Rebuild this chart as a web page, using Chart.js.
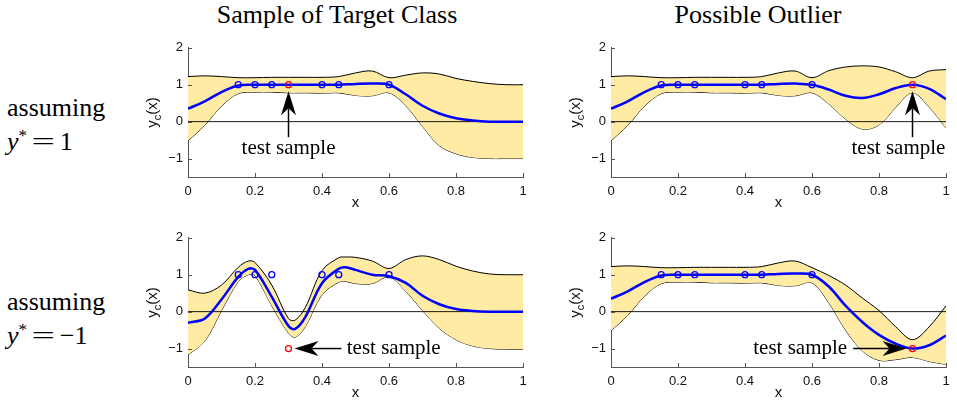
<!DOCTYPE html>
<html>
<head>
<meta charset="utf-8">
<script src="https://cdn.jsdelivr.net/npm/chart.js@4.4.1/dist/chart.umd.min.js"></script>
<style>
  body { margin: 0; background: #fff; }
  #page { position: relative; width: 957px; height: 402px; overflow: hidden; font-family: "Liberation Serif", "Times New Roman", serif; color: #000; }
  canvas { position: absolute; }
  .title { position: absolute; top: 0; width: 400px; text-align: center; font-size: 26px; line-height: 30px; white-space: nowrap; }
  .rowlabel { position: absolute; left: 7px; font-size: 26px; line-height: 34px; white-space: nowrap; }
  .rowlabel sup { font-size: 17px; vertical-align: 0; position: relative; top: -9px; }
  .eq { display: inline-block; transform: scaleX(1.6); margin: 0 9px; }
</style>
</head>
<body>
<div id="page">
  <div class="title" style="left:137px">Sample of Target Class</div>
  <div class="title" style="left:558px">Possible Outlier</div>
  <div class="rowlabel" style="top:91px">assuming<br><i>y</i><sup>*</sup><span class="eq">=</span>1</div>
  <div class="rowlabel" style="top:285px">assuming<br><i>y</i><sup>*</sup><span class="eq">=</span>−1</div>
  <canvas id="c1" width="405" height="180" style="left:130px;top:35px"></canvas>
  <canvas id="c2" width="405" height="180" style="left:553px;top:35px"></canvas>
  <canvas id="c3" width="405" height="180" style="left:130px;top:225px"></canvas>
  <canvas id="c4" width="405" height="180" style="left:553px;top:225px"></canvas>
</div>
<script>
// ticks
const xTicks = [0, 0.2, 0.4, 0.6, 0.8, 1];
const yTicks = [-1, 0, 1, 2];

// training samples (blue circles)
const trainX = [0.15, 0.2, 0.25, 0.4, 0.45, 0.6];
const trainY = [1, 1, 1, 1, 1, 1];

// sample positions of the curves
const xGrid = [0, 0.05, 0.1, 0.15, 0.2, 0.25, 0.3, 0.35, 0.4, 0.45, 0.5, 0.55, 0.6, 0.65, 0.7, 0.75, 0.8, 0.85, 0.9, 0.95, 1];
const xGridBL = [0, 0.05, 0.1, 0.15, 0.18, 0.2, 0.25, 0.3, 0.32, 0.35, 0.4, 0.45, 0.47, 0.5, 0.55, 0.6, 0.65, 0.7, 0.75, 0.8, 0.85, 0.9, 0.95, 1];

// top left: target class, y* = 1
const tlUpper = [1.22, 1.24, 1.22, 1.19, 1.19, 1.2, 1.2, 1.2, 1.2, 1.22, 1.32, 1.37, 1.19, 1.26, 1.32, 1.29, 1.17, 1.09, 1.03, 1.0, 1.0];
const tlMean  = [0.35, 0.55, 0.8, 0.98, 1.0, 1.0, 1.0, 1.0, 1.0, 1.0, 1.02, 1.03, 1.0, 0.74, 0.43, 0.22, 0.09, 0.03, 0.0, 0.0, 0.0];
const tlLower = [-0.52, -0.1, 0.42, 0.76, 0.8, 0.8, 0.78, 0.78, 0.77, 0.78, 0.71, 0.7, 0.78, 0.43, -0.13, -0.65, -0.87, -0.97, -1.0, -1.0, -1.0];

// top right: outlier, y* = 1
const trUpper = [1.22, 1.24, 1.22, 1.19, 1.19, 1.2, 1.2, 1.2, 1.2, 1.22, 1.32, 1.37, 1.19, 1.38, 1.48, 1.51, 1.48, 1.35, 1.19, 1.37, 1.41];
const trMean  = [0.35, 0.55, 0.8, 0.98, 1.0, 1.0, 1.0, 1.0, 1.0, 1.0, 1.02, 1.03, 1.0, 0.87, 0.7, 0.64, 0.74, 0.91, 1.0, 0.89, 0.61];
const trLower = [-0.52, -0.1, 0.42, 0.76, 0.8, 0.8, 0.78, 0.78, 0.77, 0.78, 0.71, 0.7, 0.78, 0.48, 0.07, -0.2, -0.09, 0.39, 0.78, 0.39, -0.17];

// bottom left: target class, y* = -1
const blUpper = [0.59, 0.5, 0.72, 1.2, 1.37, 1.33, 0.72, -0.19, -0.23, 0.11, 1.11, 1.46, 1.48, 1.47, 1.37, 1.17, 1.41, 1.51, 1.41, 1.23, 1.1, 1.02, 1.0, 1.0];
const blMean  = [-0.3, -0.19, 0.33, 0.94, 1.16, 1.13, 0.4, -0.39, -0.47, -0.15, 0.77, 1.16, 1.2, 1.13, 1.0, 0.96, 0.78, 0.43, 0.2, 0.07, 0.02, 0.0, 0.0, 0.0];
const blLower = [-1.17, -0.8, 0.03, 0.81, 1.0, 0.98, 0.16, -0.58, -0.69, -0.41, 0.46, 0.8, 0.82, 0.76, 0.76, 0.94, 0.55, 0.03, -0.45, -0.76, -0.93, -1.0, -1.02, -1.02];

// bottom right: outlier, y* = -1
const brUpper = [1.22, 1.24, 1.22, 1.19, 1.19, 1.2, 1.2, 1.2, 1.2, 1.22, 1.32, 1.37, 1.19, 0.98, 0.72, 0.37, 0.03, -0.41, -0.76, -0.41, 0.16];
const brMean  = [0.35, 0.55, 0.8, 0.98, 1.0, 1.0, 1.0, 1.0, 1.0, 1.0, 1.02, 1.03, 1.0, 0.68, 0.16, -0.28, -0.63, -0.87, -1.0, -0.91, -0.65];
const brLower = [-0.52, -0.1, 0.42, 0.76, 0.8, 0.8, 0.78, 0.78, 0.77, 0.78, 0.71, 0.7, 0.78, 0.24, -0.5, -1.06, -1.32, -1.3, -1.24, -1.35, -1.43];

const pts = (xs, ys) => xs.map((x, i) => ({ x: x, y: ys[i] }));

// extra drawing: inward ticks, axis titles, arrow + "test sample"
const extras = {
  id: 'extras',
  afterDraw(chart, args, opts) {
    const ctx = chart.ctx, a = chart.chartArea;
    const sx = chart.scales.x, sy = chart.scales.y;
    ctx.save();
    ctx.strokeStyle = '#555';
    ctx.lineWidth = 1;
    ctx.beginPath();
    xTicks.forEach(v => {
      const px = Math.round(sx.getPixelForValue(v)) + 0.5;
      ctx.moveTo(px, a.bottom); ctx.lineTo(px, a.bottom - 4);
    });
    yTicks.forEach(v => {
      const py = Math.round(sy.getPixelForValue(v)) + 0.5;
      ctx.moveTo(a.left, py); ctx.lineTo(a.left + 4, py);
    });
    ctx.stroke();

    // x title
    ctx.fillStyle = '#111';
    ctx.font = '15px "Liberation Sans"';
    ctx.textAlign = 'center';
    ctx.textBaseline = 'middle';
    ctx.fillText('x', (a.left + a.right) / 2, a.bottom + 26);

    // y title  y_c(x)
    ctx.save();
    ctx.translate(a.left - 36, (a.top + a.bottom) / 2);
    ctx.rotate(-Math.PI / 2);
    const f1 = '15px "Liberation Sans"', f2 = '11px "Liberation Sans"';
    ctx.font = f1;
    const w1 = ctx.measureText('y').width, w3 = ctx.measureText('(x)').width;
    ctx.font = f2;
    const w2 = ctx.measureText('c').width;
    const x0 = -(w1 + w2 + w3) / 2;
    ctx.textAlign = 'left';
    ctx.textBaseline = 'alphabetic';
    ctx.font = f1; ctx.fillText('y', x0, 5);
    ctx.font = f2; ctx.fillText('c', x0 + w1, 9);
    ctx.font = f1; ctx.fillText('(x)', x0 + w1 + w2, 5);
    ctx.restore();

    // arrow
    const ar = opts.arrow;
    const tx = sx.getPixelForValue(ar[0]), ty = sy.getPixelForValue(ar[1]);
    const hx = sx.getPixelForValue(ar[2]), hy = sy.getPixelForValue(ar[3]);
    const len = Math.hypot(hx - tx, hy - ty);
    const ux = (hx - tx) / len, uy = (hy - ty) / len;
    const nx = -uy, ny = ux;
    const L = 24, W = 7.5, N = 7;
    ctx.strokeStyle = '#000';
    ctx.lineWidth = 1.5;
    ctx.beginPath();
    ctx.moveTo(tx, ty);
    ctx.lineTo(hx - (L - N) * ux, hy - (L - N) * uy);
    ctx.stroke();
    ctx.fillStyle = '#000';
    ctx.beginPath();
    ctx.moveTo(hx, hy);
    ctx.lineTo(hx - L * ux + W * nx, hy - L * uy + W * ny);
    ctx.lineTo(hx - (L - N) * ux, hy - (L - N) * uy);
    ctx.lineTo(hx - L * ux - W * nx, hy - L * uy - W * ny);
    ctx.closePath();
    ctx.fill();

    // label
    const lb = opts.label;
    ctx.font = '21px "Liberation Serif"';
    ctx.textAlign = lb.align;
    ctx.textBaseline = 'middle';
    ctx.fillText('test sample', sx.getPixelForValue(lb.x), sy.getPixelForValue(lb.y));
    ctx.restore();
  }
};

function makeChart(id, xs, lower, mean, upper, test, note) {
  const ctx = document.getElementById(id).getContext('2d');
  return new Chart(ctx, {
    type: 'line',
    data: {
      datasets: [
        { data: pts([test[0]], [test[1]]), showLine: false, pointRadius: 3, pointBorderWidth: 1.3,
          pointBorderColor: '#ff0000', pointBackgroundColor: 'rgba(0,0,0,0)' },
        { data: pts(trainX, trainY), showLine: false, pointRadius: 3, pointBorderWidth: 1.3,
          pointBorderColor: '#0000ff', pointBackgroundColor: 'rgba(0,0,0,0)' },
        { data: pts(xs, mean), borderColor: '#0000ff', borderWidth: 2.5, pointRadius: 0, tension: 0.35 },
        { data: [{ x: 0, y: 0 }, { x: 1, y: 0 }], borderColor: '#000', borderWidth: 0.9, pointRadius: 0 },
        { data: pts(xs, upper), borderColor: '#000', borderWidth: 1, pointRadius: 0, tension: 0.35,
          fill: '+1', backgroundColor: 'rgb(255,235,163)' },
        { data: pts(xs, lower), borderColor: '#000', borderWidth: 1, pointRadius: 0, tension: 0.35 }
      ]
    },
    options: {
      responsive: false,
      animation: false,
      events: [],
      layout: { padding: { top: 10, right: 12, left: 0, bottom: 0 } },
      plugins: { legend: { display: false }, tooltip: { enabled: false }, extras: note },
      scales: {
        x: {
          type: 'linear', min: 0, max: 1,
          grid: { display: false, drawTicks: false },
          border: { color: '#555', width: 1 },
          ticks: { padding: 7, color: '#111', autoSkip: false, maxRotation: 0,
                   font: { family: 'Liberation Sans', size: 13 }, callback: v => String(v) },
          afterBuildTicks: s => { s.ticks = xTicks.map(v => ({ value: v })); },
          afterFit: s => { s.height = 38; }
        },
        y: {
          type: 'linear', min: -1.5, max: 2,
          grid: { display: false, drawTicks: false },
          border: { color: '#555', width: 1 },
          ticks: { padding: 5, color: '#111', autoSkip: false,
                   font: { family: 'Liberation Sans', size: 13 },
                   callback: v => v < 0 ? '\u2212' + Math.abs(v) : String(v) },
          afterBuildTicks: s => { s.ticks = yTicks.map(v => ({ value: v })); },
          afterFit: s => { s.width = 58; }
        }
      }
    },
    plugins: [extras]
  });
}

makeChart('c1', xGrid, tlLower, tlMean, tlUpper, [0.3, 1],
  { arrow: [0.3, -0.42, 0.3, 0.82], label: { x: 0.3, y: -0.72, align: 'center' } });
makeChart('c2', xGrid, trLower, trMean, trUpper, [0.9, 1],
  { arrow: [0.9, -0.42, 0.9, 0.82], label: { x: 0.858, y: -0.72, align: 'center' } });
makeChart('c3', xGridBL, blLower, blMean, blUpper, [0.3, -1],
  { arrow: [0.458, -1, 0.318, -1], label: { x: 0.474, y: -1, align: 'left' } });
makeChart('c4', xGrid, brLower, brMean, brUpper, [0.9, -1],
  { arrow: [0.723, -1, 0.882, -1], label: { x: 0.705, y: -1, align: 'right' } });
</script>
</body>
</html>
